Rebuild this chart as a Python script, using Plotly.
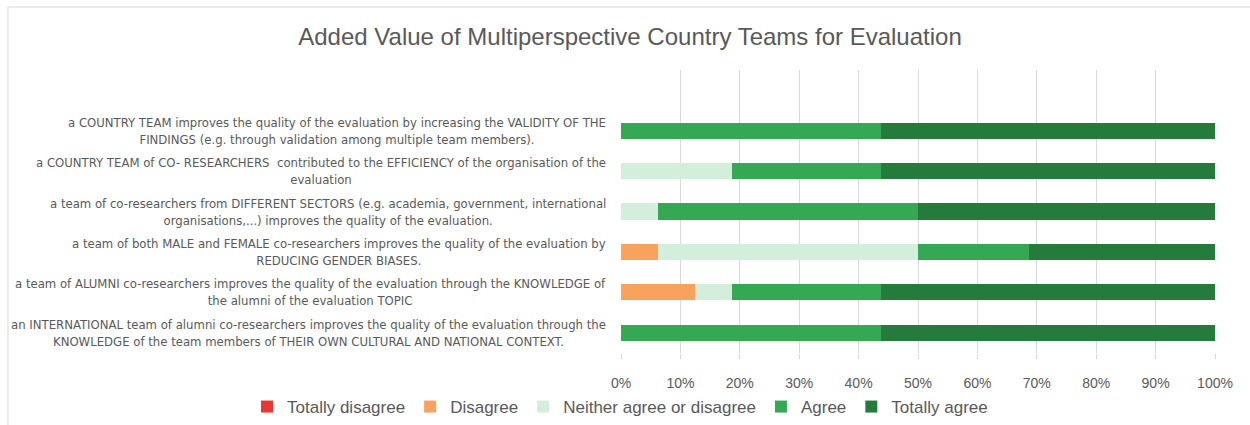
import plotly.graph_objects as go

categories = [
    "a COUNTRY TEAM improves the quality of the evaluation by increasing the VALIDITY OF THE<br>FINDINGS (e.g. through validation among multiple team members).",
    "a COUNTRY TEAM of CO- RESEARCHERS  contributed to the EFFICIENCY of the organisation of the<br>evaluation",
    "a team of co-researchers from DIFFERENT SECTORS (e.g. academia, government, international<br>organisations,...) improves the quality of the evaluation.",
    "a team of both MALE and FEMALE co-researchers improves the quality of the evaluation by<br>REDUCING GENDER BIASES.",
    "a team of ALUMNI co-researchers improves the quality of the evaluation through the KNOWLEDGE of<br>the alumni of the evaluation TOPIC",
    "an INTERNATIONAL team of alumni co-researchers improves the quality of the evaluation through the<br>KNOWLEDGE of the team members of THEIR OWN CULTURAL AND NATIONAL CONTEXT.",
]

series_names = ["Totally disagree", "Disagree", "Neither agree or disagree", "Agree", "Totally agree"]
totally_disagree = [0.0, 0.0, 0.0, 0.0, 0.0, 0.0]
disagree = [0.0, 0.0, 0.0, 0.0625, 0.125, 0.0]
neither = [0.0, 0.1875, 0.0625, 0.4375, 0.0625, 0.0]
agree = [0.4375, 0.25, 0.4375, 0.1875, 0.25, 0.4375]
totally_agree = [0.5625, 0.5625, 0.5, 0.3125, 0.5625, 0.5625]

x_tick_values = [0, 0.1, 0.2, 0.3, 0.4, 0.5, 0.6, 0.7, 0.8, 0.9, 1.0]
x_tick_labels = ["0%", "10%", "20%", "30%", "40%", "50%", "60%", "70%", "80%", "90%", "100%"]

colors = ["#E8382F", "#F8A25E", "#D3EEDB", "#34A853", "#247B3B"]

series_values = [totally_disagree, disagree, neither, agree, totally_agree]

narrow = "DejaVu Sans Condensed, sans-serif"
regular = "Liberation Sans, Arial, sans-serif"
gray = "#595959"

fig = go.Figure()
for name, vals, col in zip(series_names, series_values, colors):
    fig.add_trace(go.Bar(
        name=name, x=vals, y=categories, orientation="h",
        marker=dict(color=col, line=dict(width=0)), width=0.4,
    ))

for cat in categories:
    fig.add_annotation(
        x=0, xref="paper", y=cat, yref="y", text=cat, showarrow=False,
        xanchor="right", yanchor="middle", align="center", xshift=-13,
        font=dict(family=narrow, size=13, color=gray),
    )

fig.add_shape(type="rect", xref="paper", yref="paper",
              x0=-1.032, x1=1.08, y0=-0.28, y1=1.2226,
              line=dict(color="#D9D9D9", width=1), fillcolor="rgba(0,0,0,0)", layer="below")

fig.update_layout(
    width=1250, height=425,
    barmode="stack",
    margin=dict(l=621, r=35, t=70, b=72, autoexpand=False),
    paper_bgcolor="white", plot_bgcolor="white",
    title=dict(text="Added Value of Multiperspective Country Teams for Evaluation",
               x=0.504, xanchor="center", y=1 - 37 / 425, yanchor="middle",
               font=dict(family=regular, size=24, color=gray)),
    xaxis=dict(range=[0, 1], tickvals=x_tick_values, ticktext=x_tick_labels,
               showgrid=True, gridcolor="#D9D9D9", gridwidth=1, zeroline=False,
               ticks="outside", ticklen=5, tickcolor="#D9D9D9", ticklabelstandoff=12,
               tickfont=dict(family=regular, size=14, color=gray), fixedrange=True),
    yaxis=dict(type="category", range=[5.5, -1.5], showticklabels=False,
               showgrid=False, zeroline=False, fixedrange=True),
    legend=dict(orientation="h", xref="paper", yref="paper",
                x=(247 - 621) / 594, xanchor="left", y=(353 - 407) / 283, yanchor="middle",
                font=dict(family=regular, size=17, color=gray), itemwidth=30,
                traceorder="normal"),
    showlegend=True,
)

fig.write_html("out.html", config={"displayModeBar": False},
               post_script="document.body.style.margin='0';document.body.style.padding='0';")
